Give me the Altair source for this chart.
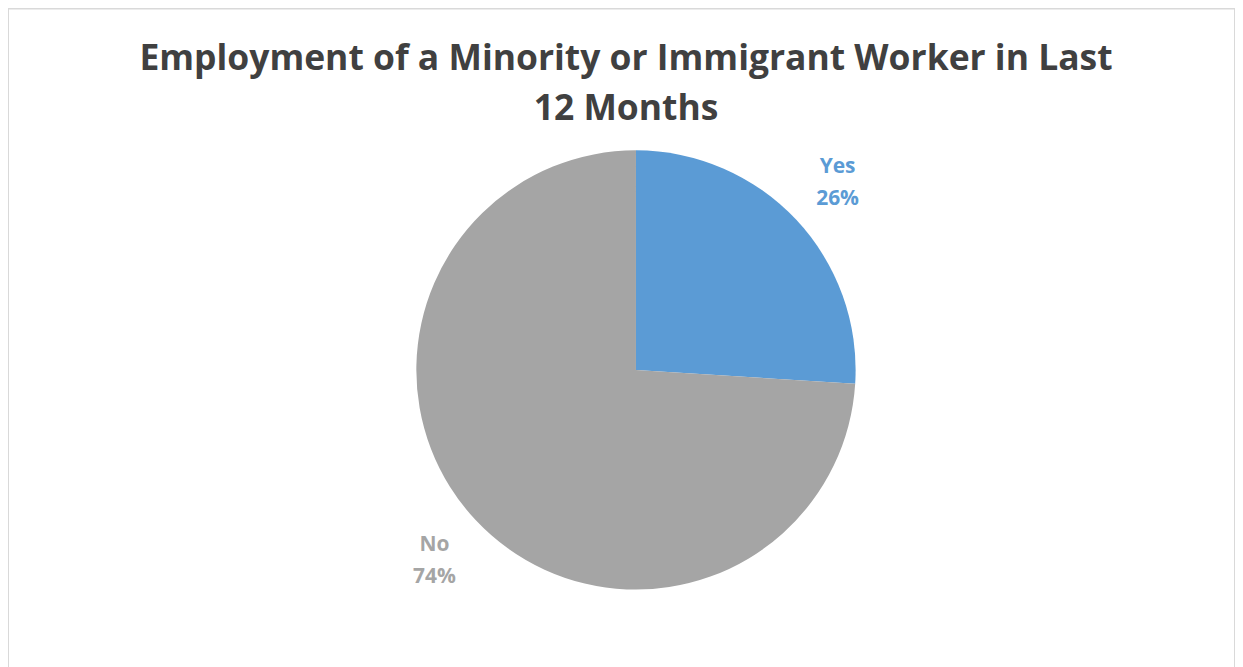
import altair as alt
import pandas as pd

categories = ["Yes", "No"]
values = [26, 74]
colors = ["#5B9BD5", "#A5A5A5"]
title_lines = ["Employment of a Minority or Immigrant Worker in Last", "12 Months"]

df = pd.DataFrame({
    "cat": categories,
    "val": values,
    "idx": list(range(len(categories))),
    "label": [f"{c}\n{v}%" for c, v in zip(categories, values)],
})
tdf = pd.DataFrame({"t": ["\n".join(title_lines)]})

CX, CY = 629, 362
FONT = "Open Sans"
color = alt.Color("cat:N", scale=alt.Scale(domain=categories, range=colors), legend=None)

base = alt.Chart(df).encode(
    theta=alt.Theta("val:Q", stack=True),
    order=alt.Order("idx:Q"),
    color=color,
)

pie = base.mark_arc(outerRadius=220).encode(x=alt.value(CX), y=alt.value(CY))
labels = base.mark_text(radius=277, font=FONT, fontWeight="bold", fontSize=21, dy=-14,
                        lineBreak="\n", lineHeight=32, baseline="middle").encode(
    x=alt.value(CX), y=alt.value(CY), text="label:N")

title = alt.Chart(tdf).mark_text(font=FONT, fontWeight="bold", fontSize=35.5, color="#404040",
                                 lineBreak="\n", lineHeight=50, baseline="middle").encode(
    x=alt.value(619), y=alt.value(51), text="t:N")

chart = alt.layer(pie, labels, title).properties(
    width=1229, height=680, padding=0,
    autosize=alt.AutoSizeParams(type="none"),
).configure_view(stroke="#D9D9D9", strokeWidth=2)

chart.save("out.html", embed_options={"renderer": "svg", "actions": False})
